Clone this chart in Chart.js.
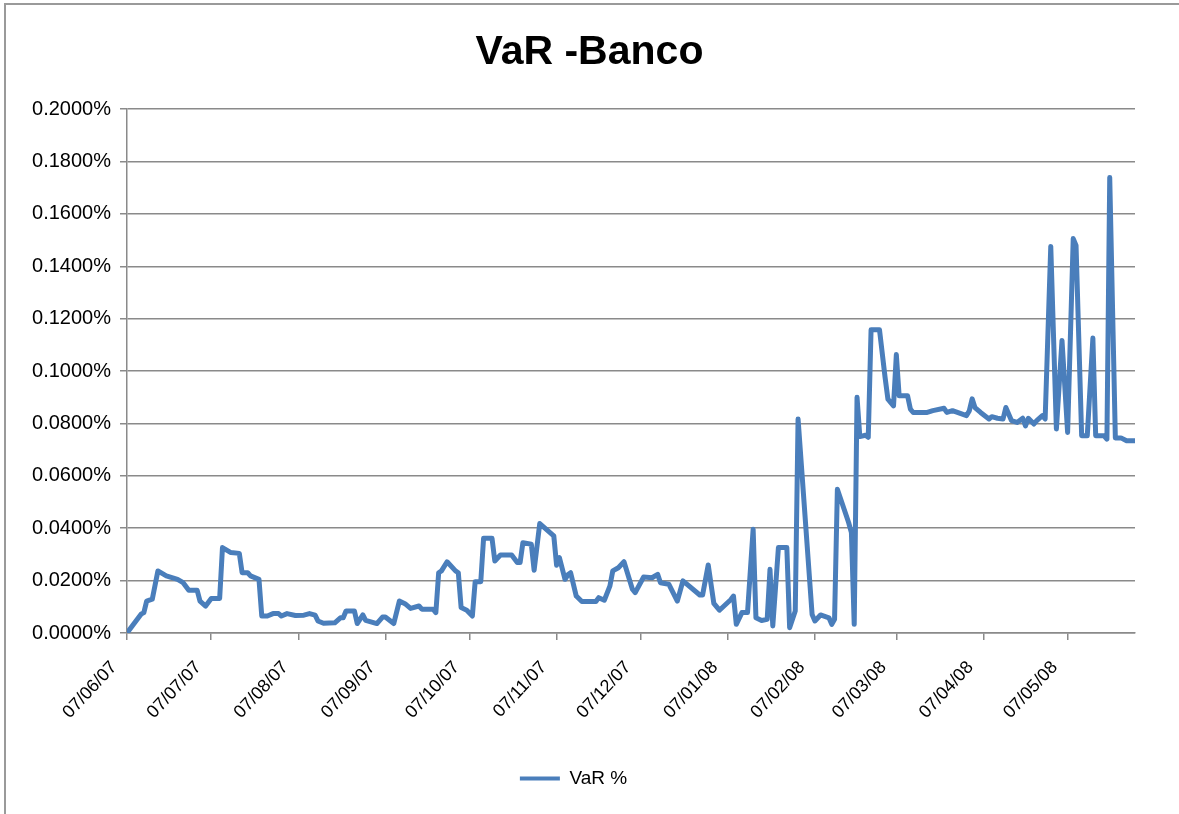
<!DOCTYPE html>
<html><head><meta charset="utf-8">
<script src="https://cdn.jsdelivr.net/npm/chart.js@4.4.1/dist/chart.umd.min.js"></script>
<style>
html,body{margin:0;padding:0;background:#fff;overflow:hidden;}
#wrap{position:relative;width:1179px;height:814px;overflow:hidden;}
#frame{position:absolute;left:4px;top:3px;width:1200px;height:830px;border-left:2px solid #9a9a9a;border-top:2px solid #9a9a9a;pointer-events:none;}
canvas{position:absolute;left:0;top:0;}
</style></head><body>
<div id="wrap"><canvas id="c" width="1179" height="814"></canvas><div id="frame"></div></div>
<script>
const chartTitle = 'VaR -Banco';
const seriesName = 'VaR %';
// days since 07/06/07
const days = [0,5,6,7,9,11,14,18,20,22,25,26,28,30,33,34,37,40,41,43,44,47,48,50,52,54,55,57,60,63,65,67,68,70,74,76,77,78,81,82,84,85,89,91,92,95,97,99,101,104,105,109,110,111,112,114,117,118,119,121,123,124,126,127,130,131,133,137,139,140,141,144,145,147,152,153,154,156,157,158,160,162,167,168,170,172,173,175,177,180,181,184,187,189,190,193,196,198,204,205,207,209,211,215,216,217,219,221,223,224,226,228,229,230,232,235,236,238,239,244,245,247,250,251,252,253,257,258,259,260,261,263,264,265,268,270,271,273,274,275,278,279,280,285,287,291,292,294,299,300,301,302,304,307,308,310,312,313,315,317,319,320,321,323,324,326,327,329,331,333,335,337,338,340,342,344,345,348,349,350,352,354,356,359];
// VaR in percent
const varPct = [0.0000,0.0072,0.0078,0.0122,0.0129,0.0237,0.0218,0.0205,0.0192,0.0163,0.0163,0.0122,0.0103,0.0132,0.0132,0.0326,0.0307,0.0304,0.0230,0.0230,0.0218,0.0205,0.0065,0.0065,0.0074,0.0074,0.0065,0.0074,0.0067,0.0068,0.0074,0.0068,0.0046,0.0037,0.0039,0.0058,0.0058,0.0084,0.0084,0.0036,0.0069,0.0048,0.0036,0.0061,0.0061,0.0036,0.0122,0.0112,0.0094,0.0103,0.0091,0.0091,0.0078,0.0230,0.0237,0.0272,0.0237,0.0230,0.0097,0.0087,0.0065,0.0196,0.0196,0.0362,0.0362,0.0275,0.0298,0.0298,0.0269,0.0269,0.0345,0.0339,0.0240,0.0418,0.0371,0.0259,0.0288,0.0205,0.0222,0.0230,0.0141,0.0120,0.0120,0.0135,0.0125,0.0180,0.0237,0.0249,0.0272,0.0167,0.0154,0.0214,0.0211,0.0224,0.0192,0.0186,0.0122,0.0199,0.0145,0.0145,0.0260,0.0113,0.0087,0.0127,0.0141,0.0033,0.0078,0.0078,0.0396,0.0058,0.0048,0.0052,0.0243,0.0027,0.0326,0.0326,0.0020,0.0084,0.0817,0.0071,0.0046,0.0069,0.0058,0.0033,0.0052,0.0549,0.0422,0.0383,0.0033,0.0900,0.0750,0.0755,0.0747,0.1158,0.1158,0.0975,0.0893,0.0867,0.1063,0.0906,0.0906,0.0855,0.0842,0.0842,0.0849,0.0858,0.0842,0.0849,0.0830,0.0849,0.0894,0.0861,0.0842,0.0817,0.0826,0.0820,0.0817,0.0861,0.0811,0.0804,0.0820,0.0791,0.0820,0.0798,0.0811,0.0830,0.0817,0.1476,0.0779,0.1117,0.0766,0.1506,0.1480,0.0753,0.0753,0.1126,0.0753,0.0753,0.0740,0.1739,0.0745,0.0745,0.0734,0.0734];
const tickDays = [0,30,61,92,122,153,183,214,245,274,305,335];
const tickLabels = ['07/06/07','07/07/07','07/08/07','07/09/07','07/10/07','07/11/07','07/12/07','07/01/08','07/02/08','07/03/08','07/04/08','07/05/08'];
const yTicks = [0,0.02,0.04,0.06,0.08,0.10,0.12,0.14,0.16,0.18,0.20];

const lineColor = '#4a7ebb';
const gridColor = '#8a8a8a';
const fontFam = '"Liberation Sans", Arial, sans-serif';

const legendShift = {
  id: 'legendShift',
  afterLayout(chart) {
    if (chart.legend) { chart.legend.left -= 16; chart.legend.right -= 16; }
  }
};

new Chart(document.getElementById('c'), {
  type: 'line',
  data: {
    datasets: [{
      label: seriesName,
      data: days.map((d, i) => ({x: d, y: varPct[i]})),
      borderColor: lineColor,
      backgroundColor: lineColor,
      borderWidth: 5,
      pointRadius: 0,
      tension: 0,
      fill: false,
      borderJoinStyle: 'round',
      borderCapStyle: 'round'
    }]
  },
  plugins: [legendShift],
  options: {
    responsive: false,
    animation: false,
    devicePixelRatio: 1,
    layout: {padding: {left: 0, right: 0, top: 0, bottom: 16}},
    plugins: {
      title: {display: true, text: chartTitle, color: '#000',
        font: {family: fontFam, size: 41, weight: 'bold'}, padding: {top: 28, bottom: 32}},
      legend: {display: true, position: 'bottom',
        labels: {boxWidth: 40, boxHeight: 4, color: '#000', padding: 10,
          font: {family: fontFam, size: 19},
          generateLabels: () => [{text: seriesName, fillStyle: lineColor, strokeStyle: lineColor, lineWidth: 0, hidden: false, datasetIndex: 0}]}},
      tooltip: {enabled: false}
    },
    scales: {
      x: {type: 'linear', min: 0, max: 359,
        afterBuildTicks: s => { s.ticks = tickDays.map(v => ({value: v})); },
        ticks: {autoSkip: false, minRotation: 47, maxRotation: 47, color: '#000', padding: 17, labelOffset: -13,
          font: {family: fontFam, size: 18},
          callback: v => { const i = tickDays.indexOf(v); return i >= 0 ? tickLabels[i] : ''; }},
        grid: {drawOnChartArea: false, drawTicks: true, tickLength: 7, color: gridColor, lineWidth: 1.5},
        border: {color: gridColor, width: 1.5},
        afterFit: s => { s.height = 126; }
      },
      y: {min: 0, max: 0.2,
        afterBuildTicks: s => { s.ticks = yTicks.map(v => ({value: v})); },
        ticks: {color: '#000', padding: 9, font: {family: fontFam, size: 20},
          callback: v => v.toFixed(4) + '%'},
        grid: {color: gridColor, lineWidth: 1.5, tickLength: 7},
        border: {color: gridColor, width: 1.5},
        afterFit: s => { s.width = 127; }
      },
      y2: {position: 'right', display: true,
        grid: {display: false}, ticks: {display: false}, border: {display: false},
        afterFit: s => { s.width = 44; }
      }
    }
  }
});
</script>
</body></html>
